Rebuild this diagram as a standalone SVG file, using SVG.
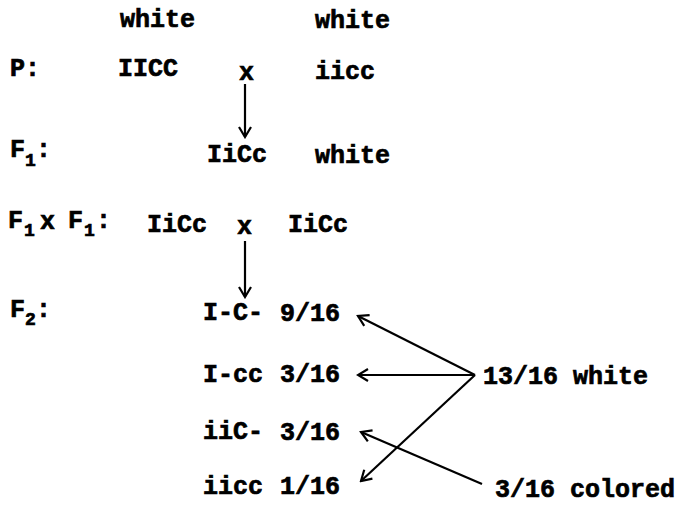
<svg xmlns="http://www.w3.org/2000/svg" width="681" height="507" viewBox="0 0 681 507">
<style>
text{font-family:"Liberation Mono","Courier New",monospace;font-weight:bold;font-size:25px;fill:#000;stroke:#000;stroke-width:0.7}
.sub{font-size:18px}
.ln{stroke:#000;stroke-width:2.2;fill:none}
</style>
<defs>
<marker id="ah" viewBox="-12 -7 14 14" markerWidth="14" markerHeight="14" refX="0" refY="0" orient="auto" markerUnits="userSpaceOnUse">
<path d="M-10,-6 L0,0 L-10,6" fill="none" stroke="#000" stroke-width="2.2"/>
</marker>
</defs>
<rect width="681" height="507" fill="#fff"/>
<g id="labels">
<text x="10" y="76">P:</text>
<g id="lab-f1"><text x="10" y="157">F</text><text class="sub" x="25" y="166">1</text><text x="36" y="157">:</text></g>
<g id="lab-f1xf1"><text x="8" y="228">F</text><text class="sub" x="24" y="236">1</text><text x="40" y="229">x</text><text x="68" y="228">F</text><text class="sub" x="84" y="236">1</text><text x="96" y="228">:</text></g>
<g id="lab-f2"><text x="10" y="317">F</text><text class="sub" x="25" y="325">2</text><text x="36" y="317">:</text></g>
</g>
<g id="p1"><text x="120" y="27">white</text><text x="118" y="76">IICC</text></g>
<g id="cross1"><text x="239" y="80">x</text></g>
<g id="p2"><text x="315" y="28">white</text><text x="315" y="79">iicc</text></g>
<g id="f1"><text x="207" y="162">IiCc</text><text x="315" y="163">white</text></g>
<g id="f1cross"><text x="147" y="232">IiCc</text><text x="237" y="234">x</text><text x="288" y="232">IiCc</text></g>
<g id="r1"><text x="203" y="320">I-C-</text><text x="280" y="321">9/16</text></g>
<g id="r2"><text x="203" y="382">I-cc</text><text x="280" y="382">3/16</text></g>
<g id="r3"><text x="203" y="439">iiC-</text><text x="280" y="440">3/16</text></g>
<g id="r4"><text x="203" y="494">iicc</text><text x="280" y="494">1/16</text></g>
<g id="white1316"><text x="483" y="384">13/16 white</text></g>
<g id="colored316"><text x="495" y="497">3/16 colored</text></g>
<g id="connectors">
<line class="ln" x1="245" y1="84" x2="245" y2="137" marker-end="url(#ah)"/>
<line class="ln" x1="245" y1="241" x2="245" y2="297" marker-end="url(#ah)"/>
<line class="ln" x1="475" y1="375" x2="358" y2="316" marker-end="url(#ah)"/>
<line class="ln" x1="475" y1="375" x2="358" y2="375" marker-end="url(#ah)"/>
<line class="ln" x1="475" y1="375" x2="361" y2="481" marker-end="url(#ah)"/>
<line class="ln" x1="482" y1="484" x2="361" y2="432" marker-end="url(#ah)"/>
</g>
</svg>
